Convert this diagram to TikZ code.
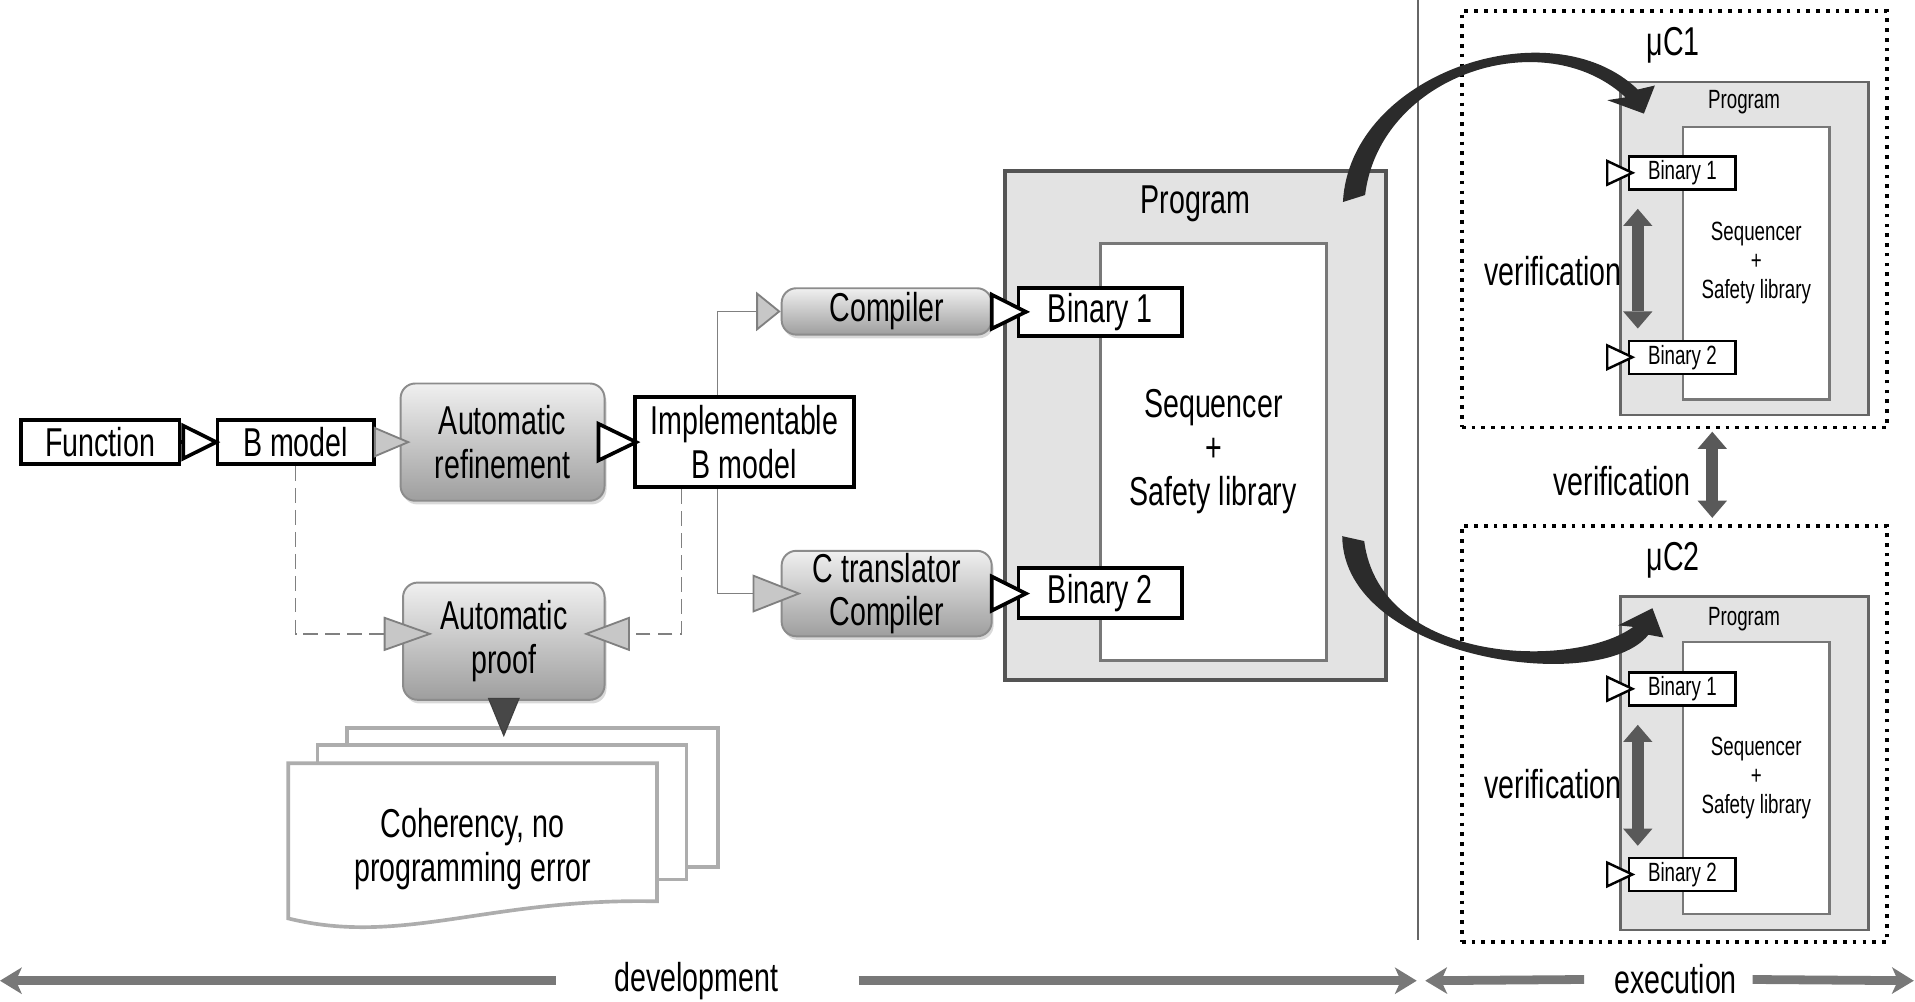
\documentclass[tikz,border=0pt]{standalone}
\usepackage{fontspec}
\setmainfont{Liberation Sans}[FakeStretch=0.71]
\usetikzlibrary{arrows.meta,shadows,calc}
\newcommand{\bigtxt}{\fontsize{16.5}{18}\selectfont}
\newcommand{\smalltxt}{\fontsize{10.8}{12}\selectfont}

\tikzset{
  blackbox/.style={draw=black, line width=1.5pt, fill=white, inner sep=0pt, font=\bigtxt, align=center},
  procbox/.style={draw=black!45, line width=0.8pt, rounded corners=6pt, top color=black!6, bottom color=black!38,
    inner sep=0pt, font=\bigtxt, align=center, drop shadow={shadow xshift=0.8pt, shadow yshift=-1.5pt, opacity=0.3}},
  progbox/.style={draw=black!67, line width=1.5pt, fill=black!11, inner sep=0pt},
  innerbox/.style={draw=black!53, line width=1.2pt, fill=white, inner sep=0pt, font=\bigtxt, align=center},
  smallprog/.style={draw=black!60, line width=1pt, fill=black!11, inner sep=0pt, minimum width=101.5pt, minimum height=136.5pt},
  smallinner/.style={draw=black!53, line width=1pt, fill=white, inner sep=0pt, font=\smalltxt, align=center,
    minimum width=60pt, minimum height=111.5pt},
  smallbin/.style={draw=black, line width=1pt, fill=white, inner sep=0pt, font=\smalltxt, minimum width=43.5pt, minimum height=13.5pt},
  dotbox/.style={draw=black, line width=1.5pt, dash pattern=on 1.5pt off 2.5pt, minimum width=174pt, minimum height=170.5pt},
  page/.style={draw=black!32, line width=1.5pt, fill=white, inner sep=0pt},
  blktip/.style 2 args={draw=black, line width=1.5pt, -{Triangle[length=#1pt, width=#2pt, fill=white]}},
  greytip/.style 2 args={draw=black!50, line width=0.75pt, -{Triangle[length=#1pt, width=#2pt, fill=black!22]}},
  smalltip/.style={draw=black, line width=1pt, -{Triangle[length=12pt, width=11pt, fill=white]}},
  darktip/.style={draw=black!75, line width=0.5pt, -{Triangle[length=16pt, width=13pt, fill=black!72]}},
  dashline/.style={dash pattern=on 6pt off 3pt},
  dblarrow/.style={draw=black!65, line width=5pt,
    {Triangle[length=7pt, width=12pt, line width=0pt]}-{Triangle[length=7pt, width=12pt, line width=0pt]}},
  bigarrow/.style={draw=black!53, line width=3.6pt, -{Stealth[length=9pt, width=11pt, inset=2.5pt, line width=0pt]}},
  fatarrow/.style={fill=black!83},
}

\begin{document}
\begin{tikzpicture}[x=0.5pt, y=-0.5pt]
\useasboundingbox (0,0) rectangle (1568,820);

% development side
\node[blackbox, minimum width=65pt, minimum height=18pt] (func) at (82,362) {Function};
\node[blackbox, minimum width=64pt, minimum height=18pt] (bmod) at (242,362) {B model};
\node[procbox, minimum width=83.5pt, minimum height=48pt] (refine) at (411.5,362) {Automatic\\refinement};
\node[blackbox, minimum width=89.5pt, minimum height=37pt] (impl) at (609.5,362) {Implementable\\B model};
\node[procbox, minimum width=86pt, minimum height=19pt] (comp) at (726,255) {Compiler};
\node[procbox, minimum width=86pt, minimum height=35pt] (ctrans) at (726,486) {C translator\\Compiler};
\node[procbox, minimum width=82.5pt, minimum height=48pt] (proof) at (412.5,525) {Automatic\\proof};

% documents
\node[page, minimum width=152pt, minimum height=57pt] (docA) at (436,653) {};
\node[page, minimum width=151pt, minimum height=55pt] (docB) at (411,665) {};
\draw[page] (236,625) -- (538,625) -- (538,738) .. controls (400,735) and (330,775) .. (236,752) -- cycle;
\node[font=\bigtxt, align=center] (coh) at (387,695) {Coherency, no\\programming error};

% program
\node[progbox, minimum width=156pt, minimum height=208.5pt] (prog) at (979,348.5) {};
\node[font=\bigtxt] (progname) at (979,167) {Program};
\node[innerbox, minimum width=92.5pt, minimum height=170.5pt] (seq) at (993.5,370) {Sequencer\\+\\Safety library};
\node[blackbox, minimum width=67pt, minimum height=19.5pt] (bin1) at (901,255.5) {Binary 1};
\node[blackbox, minimum width=67pt, minimum height=20.5pt] (bin2) at (901,485.5) {Binary 2};

\draw[blktip={16}{15.5}, shorten >=-2pt] (func) -- (bmod);
\draw[greytip={15}{12.5}, shorten >=-4.5pt] (bmod) -- (refine);
\draw[blktip={18}{17}, shorten <=-2.5pt, shorten >=-3pt] (refine) -- (impl);
\draw[greytip={10}{16}] ([xshift=-11pt]impl.north) |- (comp.west);
\draw[greytip={20}{15.5}, shorten >=-8.5pt] ([xshift=-11pt]impl.south) |- (ctrans.west);
\draw[blktip={16.5}{16}, shorten >=-5.5pt] (comp) -- (bin1);
\draw[blktip={16.5}{16}, shorten >=-5.5pt] (ctrans.east) -- (bin2.west |- ctrans.east);
\draw[greytip={20}{14}, dashline, shorten >=-12.5pt] (bmod.south) |- ([yshift=3pt]proof.west);
\draw[greytip={19}{14}, dashline, shorten >=-9pt] ([xshift=-25.75pt]impl.south) |- ([yshift=3pt]proof.east);
\draw[darktip] (proof.south) -- ([yshift=2.5pt]proof.south |- docB.north);

% separator
\draw[draw=black!60, line width=0.75pt] (1161,0) -- (1161,770);

% first microcontroller
\node[dotbox] (mcA) at (1371,179.5) {};
\node[font=\bigtxt] (mcAname) at (1370,37) {μC1};
\node[smallprog] (progA) at (1428.5,203.5) {};
\node[font=\smalltxt] (progAname) at (1428,84) {Program};
\node[smallinner] (seqA) at (1438,215.5) {Sequencer\\+\\Safety library};
\node[smallbin] (binA1) at (1377.5,141.5) {Binary 1};
\node[smallbin] (binA2) at (1377.5,292.5) {Binary 2};
\coordinate (inA1) at (1315,141.5);
\coordinate (inA2) at (1315,292.5);
\draw[smalltip, shorten >=-3pt] (inA1) -- (binA1.west);
\draw[smalltip, shorten >=-3pt] (inA2) -- (binA2.west);
\draw[dblarrow] ([xshift=-18.25pt, yshift=-7.5pt]binA1.south) -- ([xshift=-18.25pt, yshift=4.5pt]binA2.north);
\node[font=\bigtxt, anchor=east, inner sep=0pt] (verA) at (1328,222) {verification};

% second microcontroller
\node[dotbox] (mcB) at (1371,601) {};
\node[font=\bigtxt] (mcBname) at (1370,459) {μC2};
\node[smallprog] (progB) at (1428.5,625) {};
\node[font=\smalltxt] (progBname) at (1428,507) {Program};
\node[smallinner] (seqB) at (1438,637) {Sequencer\\+\\Safety library};
\node[smallbin] (binB1) at (1377.5,564) {Binary 1};
\node[smallbin] (binB2) at (1377.5,716) {Binary 2};
\coordinate (inB1) at (1315,564);
\coordinate (inB2) at (1315,716);
\draw[smalltip, shorten >=-3pt] (inB1) -- (binB1.west);
\draw[smalltip, shorten >=-3pt] (inB2) -- (binB2.west);
\draw[dblarrow] ([xshift=-18.25pt, yshift=-7.5pt]binB1.south) -- ([xshift=-18.25pt, yshift=4.5pt]binB2.north);
\node[font=\bigtxt, anchor=east, inner sep=0pt] (verB) at (1328,642) {verification};

% between the two
\draw[dblarrow] ([xshift=15.5pt, yshift=-1pt]mcA.south) -- ([xshift=15.5pt, yshift=2.5pt]mcB.north);
\node[font=\bigtxt] (verAB) at (1328,394) {verification};

% loading onto the microcontrollers
\fill[fatarrow] (1099.6,165.4) .. controls (1105,60) and (1270,5) .. (1341,73.3) -- (1355,70) -- (1346,93)
  -- (1316,82) -- (1331,79.7) .. controls (1265,18) and (1130,60) .. (1117.7,159.7) -- cycle;
\fill[fatarrow] (1099,439) .. controls (1100,540) and (1310,570) .. (1349.7,519.7) -- (1362,522) -- (1353,498)
  -- (1325,512) -- (1337.3,513.3) .. controls (1290,548) and (1130,545) .. (1117,443) -- cycle;

% phases
\node[font=\bigtxt, inner sep=0pt] (dev) at (570,803) {development};
\node[font=\bigtxt, inner sep=0pt] (exec) at (1372,802) {execution};
\coordinate (devL) at (0,803);
\coordinate (devR) at (1160,803);
\coordinate (execL) at (1167,803);
\coordinate (execR) at (1567,803);
\draw[bigarrow] ([xshift=-57.5pt]dev.center) -- (devL);
\draw[bigarrow] ([xshift=66.5pt]dev.center) -- (devR);
\draw[bigarrow] ([xshift=-37.5pt]exec.center) -- (execL);
\draw[bigarrow] ([xshift=31.5pt]exec.center) -- (execR);
\end{tikzpicture}
\end{document}
